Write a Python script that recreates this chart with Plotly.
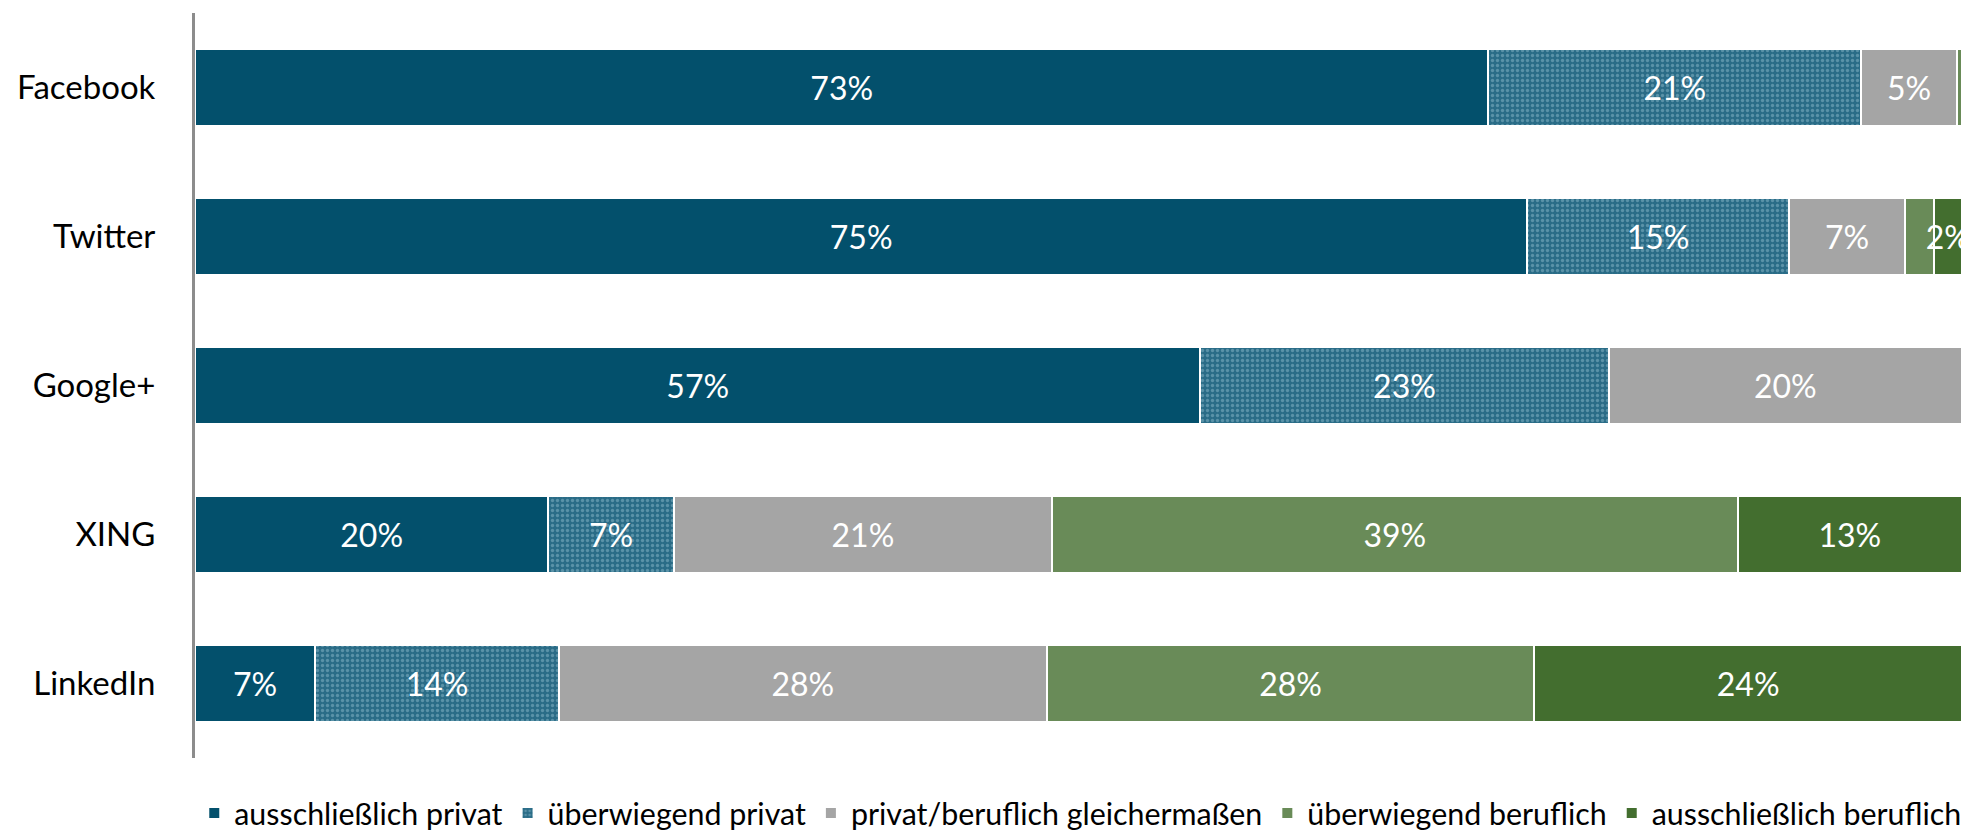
import plotly.graph_objects as go

categories = ["Facebook", "Twitter", "Google+", "XING", "LinkedIn"]
series_names = [
    "ausschließlich privat",
    "überwiegend privat",
    "privat/beruflich gleichermaßen",
    "überwiegend beruflich",
    "ausschließlich beruflich",
]
# values (%)
ausschl_privat = [73.2, 75.4, 56.9, 20.0, 6.8]
ueberw_privat = [21.1, 14.8, 23.1, 7.1, 13.8]
gleich = [5.4, 6.6, 20.0, 21.4, 27.6]
ueberw_beruf = [0.3, 1.6, 0.0, 38.8, 27.6]
ausschl_beruf = [0.0, 1.6, 0.0, 12.7, 24.2]
# displayed labels
lab_ausschl_privat = ["73%", "75%", "57%", "20%", "7%"]
lab_ueberw_privat = ["21%", "15%", "23%", "7%", "14%"]
lab_gleich = ["5%", "7%", "20%", "21%", "28%"]
lab_ueberw_beruf = ["", "", "", "39%", "28%"]
lab_ausschl_beruf = ["", "2%", "", "13%", "24%"]

colors = ["#03506c", "#2a6c87", "#a5a5a5", "#698b58", "#436e2f"]
series = [ausschl_privat, ueberw_privat, gleich, ueberw_beruf, ausschl_beruf]
labels = [lab_ausschl_privat, lab_ueberw_privat, lab_gleich, lab_ueberw_beruf, lab_ausschl_beruf]

FONT = "Lato"
fig = go.Figure()
for i, (name, vals, labs, col) in enumerate(zip(series_names, series, labels, colors)):
    marker = dict(color=col, line=dict(color="white", width=2))
    if i == 1:
        marker["pattern"] = dict(shape=".", fgcolor="#8ab7c9", bgcolor=col, size=5, solidity=0.35)
    fig.add_trace(go.Bar(
        y=categories, x=vals, name=name, orientation="h",
        marker=marker, text=labs, textposition="inside", textangle=0,
        insidetextanchor="middle", constraintext="none",
        textfont=dict(color="white", size=32, family=FONT),
        cliponaxis=True,
    ))

fig.update_layout(
    barmode="stack",
    bargap=0.48,
    width=1978, height=832,
    margin=dict(l=195, r=16, t=13, b=74, autoexpand=False),
    paper_bgcolor="white", plot_bgcolor="white",
    font=dict(family=FONT, color="#000000"),
    uniformtext=dict(minsize=32, mode="show"),
    showlegend=True,
    legend=dict(orientation="h", x=0.501, xanchor="center", y=-0.074, yanchor="middle",
                font=dict(size=30.4, family=FONT, color="#000000"),
                traceorder="normal", itemwidth=30, tracegroupgap=0),
)
fig.update_xaxes(range=[0, 100], visible=False, fixedrange=True)
fig.update_yaxes(autorange="reversed", showline=True, linecolor="#8c8c8c", linewidth=3,
                 ticks="", ticklabelstandoff=30, showgrid=False, automargin=False,
                 tickfont=dict(size=33, family=FONT, color="#000000"))

fig.write_html("out.html", config={"displayModeBar": False},
               post_script="document.body.style.margin='0';document.body.style.overflow='hidden';")
